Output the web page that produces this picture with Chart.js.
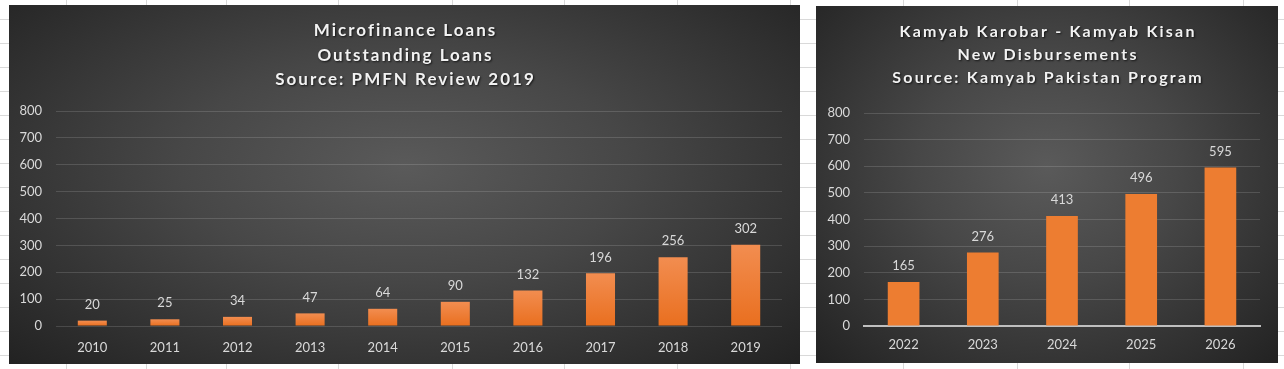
<!DOCTYPE html>
<html>
<head>
<meta charset="utf-8">
<script src="https://cdn.jsdelivr.net/npm/chart.js@4"></script>
<style>
  html, body { margin: 0; padding: 0; }
  body {
    width: 1284px; height: 369px; position: relative; overflow: hidden;
    background-color: #fff;
    background-image: repeating-linear-gradient(to bottom, transparent 0 18px, #d9d9d9 18px 19px, transparent 19px 24px);
    background-position: 0 1px;
  }
  .col { position: absolute; top: 0; width: 1px; height: 369px; background: #d9d9d9; }
  .panel {
    position: absolute;
    background: radial-gradient(ellipse farthest-corner at 50% 45%, #5a5a5a 0%, #474747 40%, #222 100%);
  }
  .panel canvas { position: absolute; left: 0; top: 0; }
</style>
</head>
<body>
<div class="panel" style="left:9px;top:5px;width:791px;height:359px"><canvas id="loansChart" width="791" height="359"></canvas></div>
<div class="panel" style="left:816px;top:6px;width:462px;height:357px"><canvas id="kamyabChart" width="462" height="357"></canvas></div>
<script>
// Left chart: microfinance outstanding loans
const loanYears = ["2010", "2011", "2012", "2013", "2014", "2015", "2016", "2017", "2018", "2019"];
const loanValues = [20, 25, 34, 47, 64, 90, 132, 196, 256, 302];
const loanTitle = ["Microfinance Loans", "Outstanding Loans", "Source: PMFN Review 2019"];

// Right chart: Kamyab Pakistan new disbursements
const kamyabYears = ["2022", "2023", "2024", "2025", "2026"];
const kamyabValues = [165, 276, 413, 496, 595];
const kamyabTitle = ["Kamyab Karobar - Kamyab Kisan", "New Disbursements", "Source: Kamyab Pakistan Program"];

// Spreadsheet column lines behind the charts
const sheetColumns = [66, 146, 226, 338, 452, 564, 677, 790, 903, 1017, 1129, 1243];
sheetColumns.forEach(x => {
    const line = document.createElement("div");
    line.className = "col";
    line.style.left = x + "px";
    document.body.insertBefore(line, document.body.firstChild);
});

const labelColor = "#d9d9d9";
const gridColor = "rgba(255, 255, 255, 0.14)";

// Value labels above bars
const barLabels = {
    id: "barLabels",
    afterDatasetsDraw(chart) {
        const ctx = chart.ctx;
        ctx.save();
        ctx.font = "13px Lato";
        ctx.fillStyle = labelColor;
        ctx.textAlign = "center";
        ctx.textBaseline = "middle";
        chart.getDatasetMeta(0).data.forEach((bar, i) => {
            ctx.fillText(chart.data.datasets[0].data[i], bar.x, bar.y - 16);
        });
        ctx.restore();
    }
};

// Spaced, shadowed chart title like Excel's
const spacedTitle = {
    id: "spacedTitle",
    afterDraw(chart, args, opts) {
        const ctx = chart.ctx;
        ctx.save();
        ctx.font = "bold " + opts.size + "px Lato";
        ctx.letterSpacing = opts.spacing + "px";
        ctx.fillStyle = "#f2f2f2";
        ctx.textAlign = "center";
        ctx.textBaseline = "middle";
        ctx.shadowColor = "rgba(0, 0, 0, 0.7)";
        ctx.shadowOffsetX = 1;
        ctx.shadowOffsetY = 1;
        ctx.shadowBlur = 2;
        opts.lines.forEach((line, i) => {
            ctx.fillText(line, chart.width / 2 + opts.spacing / 2, opts.top + i * opts.lineHeight);
        });
        ctx.restore();
    }
};

// Per-bar vertical gradient for the left chart
function loanBarColor(context) {
    const chart = context.chart;
    const yScale = chart.scales.y;
    if (!yScale || !context.parsed) return "#ed7d31";
    const top = yScale.getPixelForValue(context.parsed.y);
    const bottom = yScale.getPixelForValue(0);
    if (!isFinite(top) || !isFinite(bottom)) return "#ed7d31";
    const g = chart.ctx.createLinearGradient(0, top, 0, bottom);
    g.addColorStop(0, "#f28d50");
    g.addColorStop(1, "#e96f1f");
    return g;
}

function makeChart(canvasId, years, values, title, opts) {
    return new Chart(document.getElementById(canvasId), {
        type: "bar",
        data: {
            labels: years,
            datasets: [{
                data: values,
                backgroundColor: opts.barColor,
                borderWidth: 0,
                barPercentage: 0.4,
                categoryPercentage: 1
            }]
        },
        options: {
            responsive: false,
            animation: false,
            devicePixelRatio: 1,
            layout: { padding: { top: opts.padTop, right: 18, left: 0, bottom: 0 } },
            plugins: {
                legend: { display: false },
                tooltip: { enabled: false },
                spacedTitle: { lines: title, size: opts.titleSize, spacing: opts.titleSpacing, top: opts.titleTop, lineHeight: opts.titleLine }
            },
            scales: {
                x: {
                    grid: { display: false },
                    border: opts.xBorder,
                    ticks: { color: labelColor, font: { family: "Lato", size: 13 }, padding: opts.xPad },
                    afterFit(scale) { scale.height = opts.xHeight; }
                },
                y: {
                    min: 0,
                    max: 800,
                    ticks: { stepSize: 100, color: labelColor, font: { family: "Lato", size: 13 }, padding: 14 },
                    grid: { color: gridColor, drawTicks: false },
                    border: { display: false },
                    afterFit(scale) { scale.width = opts.yWidth; }
                }
            }
        },
        plugins: [barLabels, spacedTitle]
    });
}

makeChart("loansChart", loanYears, loanValues, loanTitle, {
    barColor: loanBarColor,
    padTop: 106,
    xHeight: 38,
    xPad: 6,
    yWidth: 47,
    xBorder: { display: false },
    titleSize: 17,
    titleSpacing: 2,
    titleTop: 26,
    titleLine: 24.5
});

makeChart("kamyabChart", kamyabYears, kamyabValues, kamyabTitle, {
    barColor: "#ed7d31",
    padTop: 107,
    xHeight: 37,
    xPad: 3,
    yWidth: 48,
    xBorder: { display: true, color: "#bfbfbf", width: 2 },
    titleSize: 16,
    titleSpacing: 2.2,
    titleTop: 26,
    titleLine: 22.8
});
</script>
</body>
</html>
